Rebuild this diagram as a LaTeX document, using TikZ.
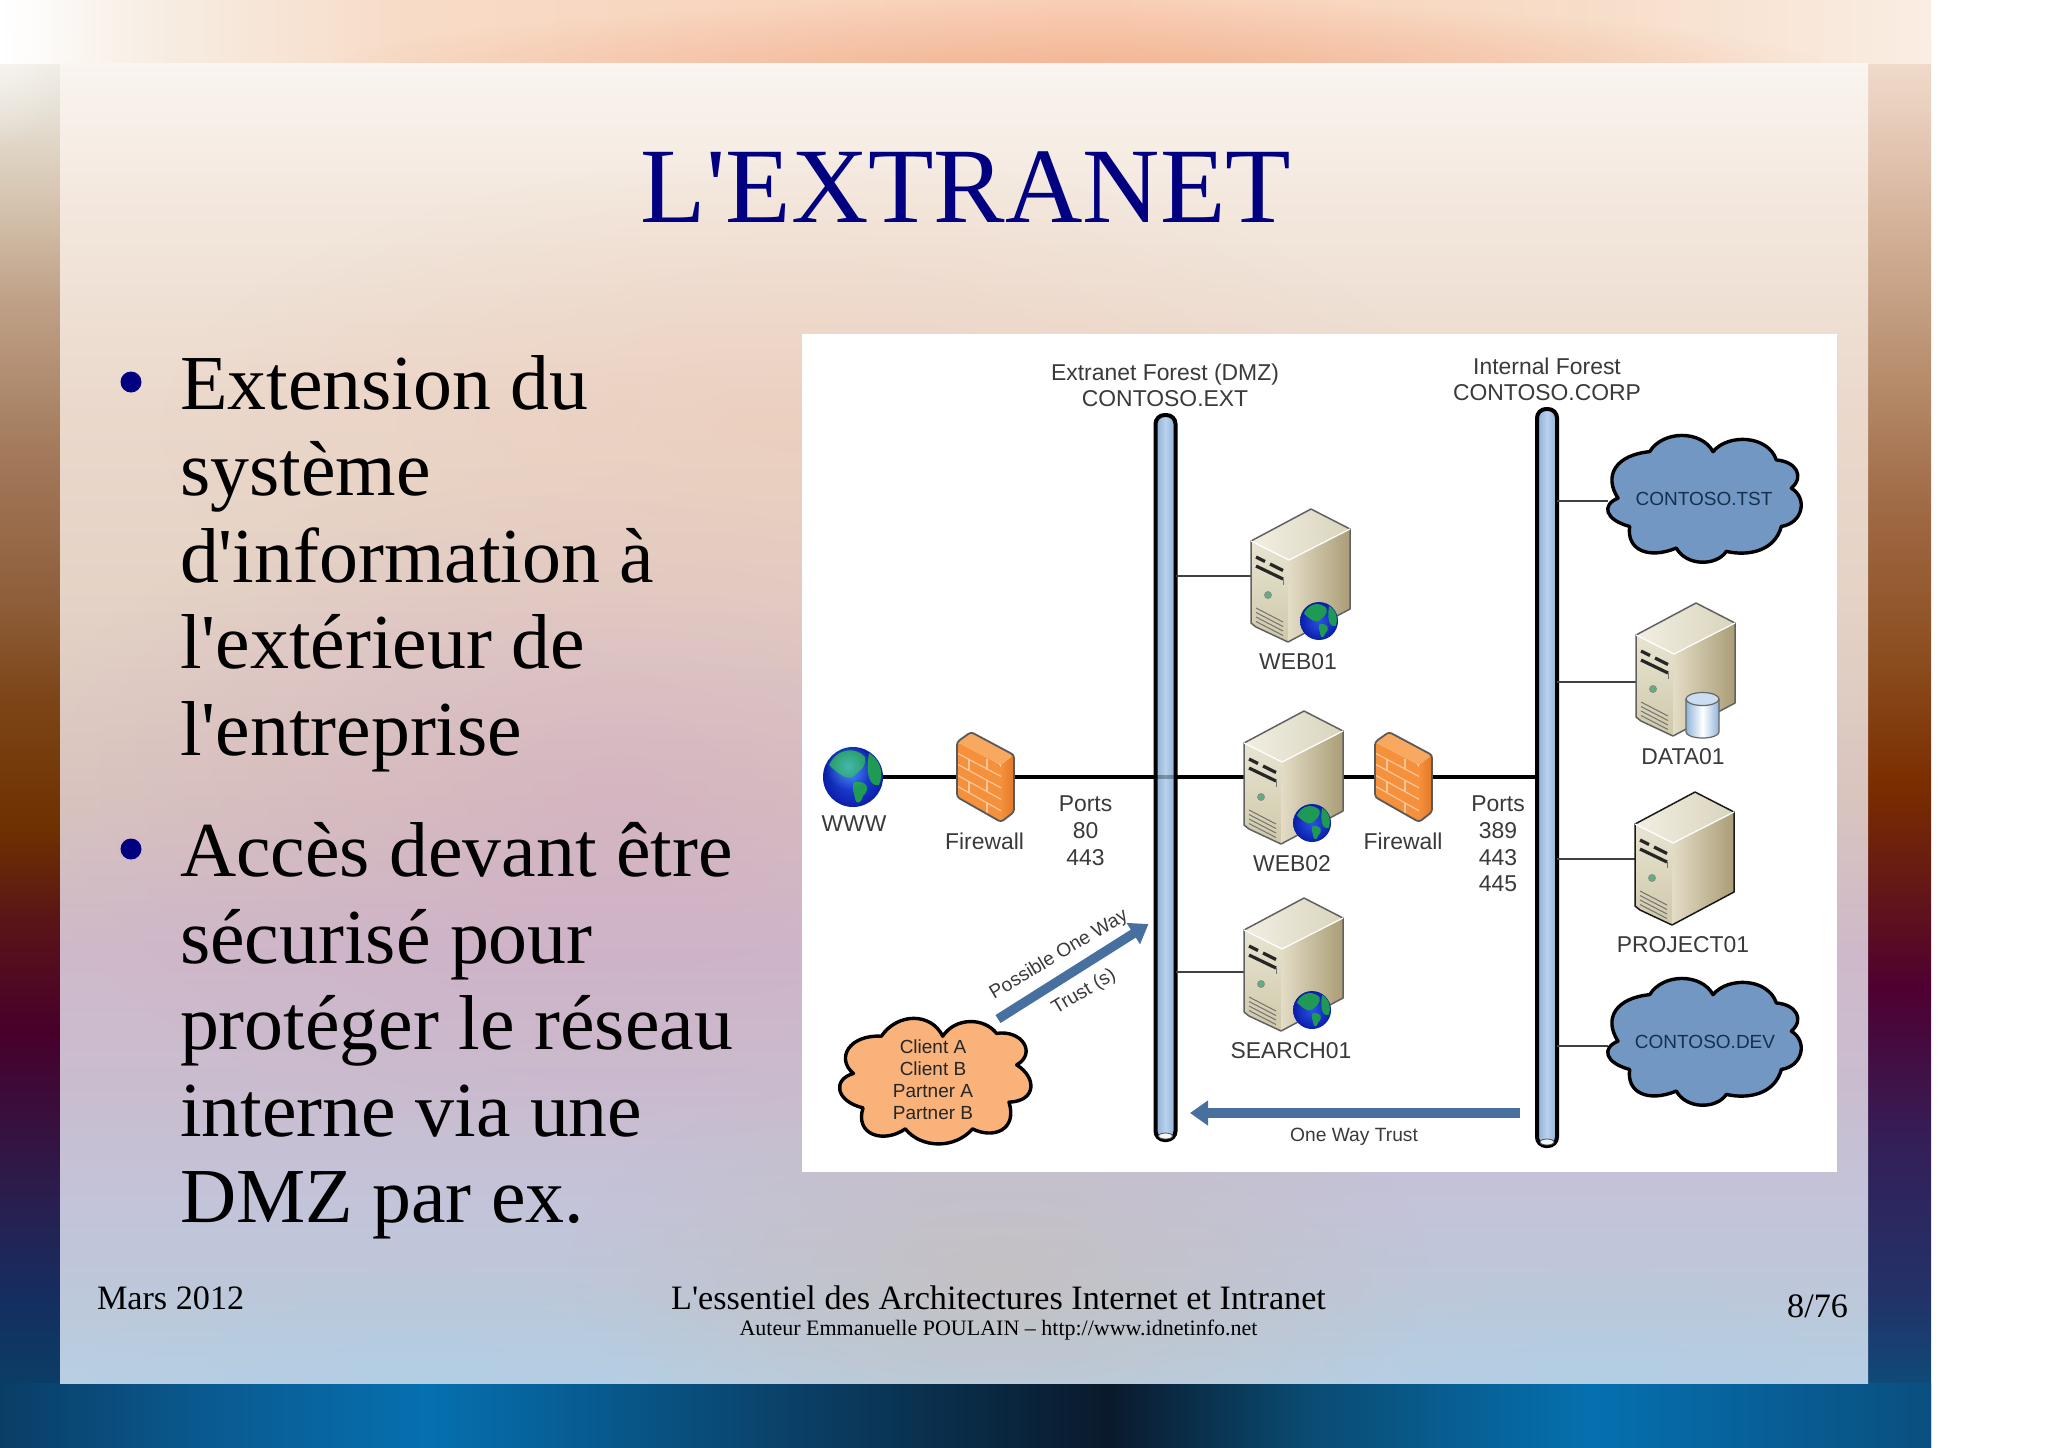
\documentclass[tikz,border=0pt]{standalone}
\usepackage{fontspec}
\usetikzlibrary{arrows.meta,fadings,calc}
\newfontfamily\serifslide{Liberation Serif}
\newfontfamily\sansfig{Liberation Sans}
\definecolor{navyt}{HTML}{000080}
\definecolor{labelc}{HTML}{3A3A3A}
\definecolor{cloudtxt}{HTML}{14304F}
\definecolor{arrowc}{HTML}{47709F}
\definecolor{cloudb}{HTML}{7297C2}
\definecolor{cloudo}{HTML}{F8B27A}
\definecolor{busedge}{HTML}{8AAED6}
\definecolor{busmid}{HTML}{BAD2EC}
\definecolor{srvtopa}{HTML}{F2EFE3}
\definecolor{srvtopb}{HTML}{D9D4BC}
\definecolor{srvfronta}{HTML}{E8E4D2}
\definecolor{srvfrontb}{HTML}{CFC8A9}
\definecolor{srvsidea}{HTML}{E3DDC6}
\definecolor{srvsideb}{HTML}{AA9D76}
\definecolor{fwfront}{HTML}{F5903C}
\definecolor{fwtop}{HTML}{F9A860}
\definecolor{fwside}{HTML}{E27828}
\definecolor{fwbrick}{HTML}{FBC79C}
\definecolor{earthin}{HTML}{2A52E8}
\definecolor{earthout}{HTML}{0A1EA8}
\definecolor{earthland}{HTML}{1F9A55}
\definecolor{cylside}{HTML}{8FB4DA}
\definecolor{cyltop}{HTML}{CADDF1}
\definecolor{blobmauve}{HTML}{CFA3C4}
\definecolor{blobgrey}{HTML}{C8BDB6}
\definecolor{blobpeach}{HTML}{EDC6B2}
\definecolor{blobblue}{HTML}{AECDE4}
\definecolor{bandshade}{HTML}{F1B08E}
\colorlet{srvedge}{black!62}
\pgfdeclareverticalshading{bgleft}{100bp}{rgb(0bp)=(0.04,0.31,0.50);
 rgb(25bp)=(0.04,0.31,0.50);rgb(27.2bp)=(0.04,0.24,0.40);rgb(30.1bp)=(0.08,0.18,0.38);rgb(33.5bp)=(0.16,0.12,0.31);
 rgb(39.3bp)=(0.28,0.0,0.17);rgb(43.2bp)=(0.35,0.08,0.09);rgb(46.3bp)=(0.43,0.19,0.0);rgb(50.8bp)=(0.49,0.27,0.09);
 rgb(54.3bp)=(0.56,0.37,0.23);rgb(59.5bp)=(0.64,0.48,0.36);rgb(64.6bp)=(0.75,0.63,0.53);rgb(68.1bp)=(0.84,0.77,0.69);
 rgb(71.5bp)=(0.91,0.89,0.85);rgb(75bp)=(0.99,0.98,0.96);rgb(100bp)=(0.99,0.98,0.96)}
\pgfdeclareverticalshading{bgright}{100bp}{rgb(0bp)=(0.04,0.35,0.54);
 rgb(25bp)=(0.04,0.35,0.54);rgb(27.2bp)=(0.06,0.29,0.47);rgb(30.1bp)=(0.13,0.20,0.41);rgb(35.3bp)=(0.20,0.125,0.35);
 rgb(40.9bp)=(0.31,0.0,0.19);rgb(44.6bp)=(0.40,0.10,0.08);rgb(47.9bp)=(0.48,0.18,0.0);rgb(52.5bp)=(0.55,0.31,0.13);
 rgb(57.7bp)=(0.63,0.42,0.28);rgb(62.2bp)=(0.72,0.56,0.43);rgb(68.1bp)=(0.85,0.72,0.63);rgb(71.5bp)=(0.92,0.82,0.75);
 rgb(75bp)=(0.98,0.91,0.86);rgb(100bp)=(0.98,0.91,0.86)}
\pgfdeclarehorizontalshading{bgtop}{100bp}{rgb(0bp)=(1,1,1);rgb(25bp)=(1,1,1);rgb(29bp)=(0.97,0.93,0.89);rgb(35.4bp)=(0.97,0.86,0.78);
 rgb(53.5bp)=(0.98,0.81,0.71);rgb(66.4bp)=(0.97,0.87,0.79);rgb(75bp)=(0.98,0.93,0.89);rgb(100bp)=(0.98,0.93,0.89)}
\pgfdeclarehorizontalshading{bgbottom}{100bp}{rgb(0bp)=(0.04,0.24,0.40);rgb(25bp)=(0.04,0.24,0.40);rgb(30.2bp)=(0.04,0.35,0.56);rgb(36.1bp)=(0.02,0.44,0.69);
 rgb(45.7bp)=(0.04,0.25,0.40);rgb(53.7bp)=(0.04,0.10,0.17);rgb(58.7bp)=(0.04,0.29,0.44);rgb(66.2bp)=(0.02,0.44,0.69);
 rgb(75bp)=(0.04,0.31,0.50);rgb(100bp)=(0.04,0.31,0.50)}
\pgfdeclareverticalshading{panelv}{100bp}{rgb(0bp)=(0.72,0.81,0.89);rgb(25bp)=(0.72,0.81,0.89);rgb(28.1bp)=(0.74,0.785,0.855);rgb(32bp)=(0.765,0.765,0.85);
 rgb(35.8bp)=(0.79,0.74,0.815);rgb(41.5bp)=(0.81,0.725,0.79);rgb(47.2bp)=(0.85,0.77,0.745);rgb(54.7bp)=(0.895,0.825,0.775);
 rgb(62.3bp)=(0.92,0.85,0.80);rgb(69.9bp)=(0.955,0.91,0.87);rgb(75bp)=(0.98,0.96,0.94);rgb(100bp)=(0.98,0.96,0.94)}
\tikzfading[name=softblob, inner color=transparent!0, outer color=transparent!100]
\tikzset{
 slidetext/.style={inner sep=0pt,outer sep=0pt,text=black,font=\serifslide\fontsize{38.9}{43.3}\selectfont,align=left,anchor=north west},
 bulletdot/.style={circle,fill=navyt,inner sep=0pt,minimum size=10.5pt},
 footer/.style={inner sep=0pt,outer sep=0pt,text=black,font=\serifslide\fontsize{17.1}{20}\selectfont},
 figlabel/.style={inner sep=0pt,outer sep=0pt,text=labelc,align=center,font=\sansfig\fontsize{11.45}{13}\selectfont},
 figports/.style={inner sep=0pt,outer sep=0pt,text=labelc,align=center,font=\sansfig\fontsize{11.45}{13.4}\selectfont},
 figsmall/.style={inner sep=0pt,outer sep=0pt,text=labelc,align=center,font=\sansfig\fontsize{9.6}{11.2}\selectfont},
 cloudlabel/.style={inner sep=0pt,outer sep=0pt,text=cloudtxt,font=\sansfig\fontsize{9.5}{11}\selectfont},
 busnode/.style={draw=black,line width=2pt,rounded corners=4.5pt,left color=busedge,right color=busedge,middle color=busmid,inner sep=0pt,outer sep=0pt,minimum width=10pt},
 mainline/.style={draw=black,line width=1.75pt},
 thinline/.style={draw=black!75,line width=.9pt},
 trustarrow/.style={draw=arrowc,line width=4.7pt,-{Triangle[length=9pt,width=12pt]}},
 cloudedge/.style={draw=black,line width=1.7pt,line join=round},
 pics/srv/.style={code={
  \shade[left color=srvtopa,right color=srvtopb] (0,0) -- (60,-32) -- (99,-12) -- (38,19) -- cycle;
  \shade[top color=srvfronta,bottom color=srvfrontb] (0,0) -- (38,19) -- (37,101) -- (5,86) -- (0,82) -- cycle;
  \shade[left color=srvsidea,right color=srvsideb] (38,19) -- (99,-12) -- (99,68) -- (37,101) -- cycle;
  \draw[srvedge,line width=.75pt,line join=round] (0,0) -- (60,-32) -- (99,-12) -- (99,68) -- (37,101) -- (5,86) -- (0,82) -- cycle;
  \draw[white,line width=.6pt] (0,0) -- (38,19) -- (99,-12);
  \draw[black!85,line width=1.6pt] (5,16) -- (14,20.5) (19,23) -- (32,29.5);
  \draw[black!85,line width=1.6pt] (5,25) -- (32,38);
  \draw[black!55,line width=.5pt] (32,38) -- (32,44);
  \draw[black!45,fill=earthland!75!white,line width=.5pt] (17,54) circle (3.4);
  \foreach \k in {67,71.5,76,80.5}{\draw[black!55,line width=.5pt] (5,\k) -- (32,\k+14);}
 }},
 pics/earth/.style={code={
  \shade[inner color=earthin,outer color=earthout] (0,0) circle (30);
  \fill[earthland] (-24,-12) .. controls (-15,-30) and (3,-30) .. (12,-20) .. controls (14,-10) and (6,-6) .. (1,-1) .. controls (-4,4) and (-14,-2) .. (-24,-12) -- cycle;
  \fill[earthland] (16,-24) .. controls (28,-16) and (31,-4) .. (26,8) .. controls (18,10) and (12,0) .. (16,-24) -- cycle;
  \fill[earthland] (1,5) .. controls (14,3) and (18,12) .. (10,19) .. controls (8,27) and (3,28) .. (2,21) .. controls (1,15) and (-2,10) .. (1,5) -- cycle;
 }},
 pics/firewallshape/.style={code={
  \fill[fwfront,rounded corners=1.5pt] (0,0) -- (44,23) -- (44,80) -- (0,55) -- cycle;
  \fill[fwtop] (0,0) -- (14,-10) -- (57,13) -- (44,23) -- cycle;
  \shade[left color=fwfront,right color=fwside] (44,23) -- (57,13) -- (57,70) -- (44,80) -- cycle;
  \foreach \k in {11,22,33,44}{\draw[fwbrick,line width=.6pt] (0,\k) -- (44,{\k+23+\k*0.04});}
  \foreach \k/\a in {0/30,11/12,22/30,33/12,44/30}{\draw[fwbrick,line width=.6pt] (\a,{\k+\a*0.55}) -- ++(0,11);}
  \draw[black!65,line width=.9pt,line join=round,rounded corners=1.5pt] (0,0) -- (14,-10) -- (57,13) -- (57,70) -- (44,80) -- (0,55) -- cycle;
 }},
}
\newcommand{\blueoutline}{(30,190) .. controls (-15,120) and (25,60) .. (125,50) .. controls (165,-15) and (280,-15) .. (315,50) .. controls (360,-5) and (480,0) .. (505,75) .. controls (565,80) and (590,125) .. (550,160) .. controls (600,190) and (585,265) .. (520,275) .. controls (500,350) and (420,365) .. (355,350) .. controls (325,395) and (235,395) .. (205,340) .. controls (120,375) and (55,345) .. (65,275) .. controls (-10,255) and (-20,210) .. (30,190) -- cycle}
\begin{document}
\begin{tikzpicture}[x=0.5pt,y=-0.5pt]
\useasboundingbox (0,0) rectangle (2048,1447);
\fill[white] (0,0) rectangle (2048,1447);
% slide background
\shade[shading=bgleft] (0,0) rectangle (60,1447);
\shade[shading=bgright] (1868,0) rectangle (1931,1447);
\shade[shading=bgtop] (0,0) rectangle (1931,63);
\shade[shading=bgbottom] (0,1383) rectangle (1931,1447);
\begin{scope}
\clip (0,0) rectangle (1931,63);
\fill[bandshade,path fading=softblob,opacity=.9] (1080,75) ellipse (760 and 75);
\end{scope}
\begin{scope}
\clip (0,0) rectangle (100,300);
\fill[white,path fading=softblob,opacity=.7] (-10,10) ellipse (90 and 140);
\end{scope}
% panel
\shade[shading=panelv] (60,63) rectangle (1868,1383);
\begin{scope}
\clip (60,63) rectangle (1868,1383);
\fill[blobmauve,path fading=softblob,opacity=.45] (620,800) ellipse (600 and 340);
\fill[blobgrey,path fading=softblob,opacity=.6] (1000,1270) ellipse (430 and 210);
\fill[blobpeach,path fading=softblob,opacity=.45] (800,430) ellipse (640 and 270);
\fill[blobblue,path fading=softblob,opacity=.5] (420,1370) ellipse (330 and 100);
\fill[blobblue,path fading=softblob,opacity=.5] (1600,1370) ellipse (330 and 100);
\end{scope}
% title and bullets
\node[inner sep=0pt,anchor=base,text=navyt,font=\serifslide\fontsize{53.6}{60}\selectfont] (title) at (966,222) {L'EXTRANET};
\node[bulletdot] (dot1) at (131,382) {};
\node[slidetext] (bullet1) at (180,289) {\rule{0pt}{60pt}Extension du\\système\\d'information à\\l'extérieur de\\l'entreprise};
\node[bulletdot] (dot2) at (131,849) {};
\node[slidetext] (bullet2) at (180,756.5) {\rule{0pt}{60pt}Accès devant être\\sécurisé pour\\protéger le réseau\\interne via une\\DMZ par ex.};
% footer
\node[footer,anchor=base west] (date) at (97,1309) {Mars 2012};
\node[footer,anchor=base] (foot) at (998.5,1309) {L'essentiel des Architectures Internet et Intranet};
\node[footer,anchor=base,font=\serifslide\fontsize{11}{14}\selectfont] (author) at (998.5,1335.5) {Auteur Emmanuelle POULAIN – http://www.idnetinfo.net};
\node[footer,anchor=base east] (page) at (1848,1317.5) {8/76};
% figure
\fill[white] (802,334) rectangle (1837,1172);
% named attachment points
\coordinate (wwwp) at (880,777);
\coordinate (web02w) at (1246,777);
\coordinate (web02e) at (1342,777);
\coordinate (fw2w) at (1375,777);
\coordinate (fw2e) at (1432,777);
\coordinate (web01p) at (1251,576);
\coordinate (searchp) at (1244,972);
\coordinate (tstp) at (1608,501);
\coordinate (datap) at (1636,682);
\coordinate (projp) at (1635,859);
\coordinate (devp) at (1608,1046);
\coordinate (clientp) at (998,1019);
\coordinate (truststart) at (1520,1113);
% buses
\node[busnode,minimum height=362.5pt] (bus1) at (1165.5,777.5) {};
\node[busnode,minimum height=368.5pt] (bus2) at (1547,777.5) {};
\coordinate (trustend1) at (1148.5,924);
\coordinate (trustend2) at (1190,1113);
\draw[fill=white!80!busmid,draw=black!70,line width=.4pt] (1165.5,1136) ellipse (7 and 3);
\draw[fill=white!80!busmid,draw=black!70,line width=.4pt] (1547,1142) ellipse (7 and 3);
% connectors
\draw[mainline] (wwwp) -- (bus1.west |- wwwp);
\draw[black,opacity=.3,line width=1.75pt] (bus1.west |- wwwp) -- (bus1.east |- wwwp);
\draw[mainline] (bus1.east |- wwwp) -- (web02w);
\draw[mainline] (web02e) -- (fw2w);
\draw[mainline] (fw2e) -- (bus2.west |- fw2e);
\draw[thinline] (bus1.east |- web01p) -- (web01p);
\draw[thinline] (bus1.east |- searchp) -- (searchp);
\draw[thinline] (bus2.east |- tstp) -- (tstp);
\draw[thinline] (bus2.east |- datap) -- (datap);
\draw[thinline] (bus2.east |- projp) -- (projp);
\draw[thinline] (bus2.east |- devp) -- (devp);
\draw[trustarrow] (clientp) -- (trustend1);
\draw[trustarrow] (truststart) -- (trustend2);
% devices
\pic at (1251,541) {srv};
\pic[scale=.633] at (1319,621) {earth};
\pic at (1244,743) {srv};
\pic[scale=.633] at (1312,823) {earth};
\pic at (1244,930) {srv};
\pic[scale=.633] at (1312,1010) {earth};
\pic at (1636,635) {srv};
\shade[left color=cylside,right color=cylside,middle color=white] (1686,699) -- (1686,732) arc (180:0:16.5 and 6) -- (1719,699) -- cycle;
\draw[black!60,line width=.6pt] (1686,699) -- (1686,732) arc (180:0:16.5 and 6) -- (1719,699);
\draw[black!60,line width=.6pt,fill=cyltop] (1702.5,699) ellipse (16.5 and 6.5);
\begin{scope}
\colorlet{srvedge}{black!90}
\pic at (1635,824) {srv};
\end{scope}
\pic at (957,742) {firewallshape};
\pic at (1375,742) {firewallshape};
\pic at (853,777) {earth};
\fill[cyan!60!white,path fading=softblob,opacity=.55] (848,766) circle (23);
% clouds
\begin{scope}[shift={(1608,435)},xscale=.3333,yscale=.3325]
\fill[cloudb,cloudedge] \blueoutline;
\end{scope}
\begin{scope}[shift={(1608,978)},xscale=.3333,yscale=.3325]
\fill[cloudb,cloudedge] \blueoutline;
\end{scope}
\begin{scope}[shift={(840,1020)},xscale=.96,yscale=.955]
\fill[cloudo,cloudedge] (14,56) .. controls (-5,40) and (10,15) .. (43,17) .. controls (60,-8) and (95,-8) .. (107,17) .. controls (120,-3) and (150,-3) .. (163,14) .. controls (190,10) and (205,35) .. (184,47) .. controls (205,60) and (205,85) .. (176,86) .. controls (185,115) and (160,125) .. (138,114) .. controls (120,135) and (85,135) .. (68,114) .. controls (45,130) and (15,120) .. (24,92) .. controls (-5,85) and (-8,62) .. (14,56) -- cycle;
\end{scope}
% figure labels
\node[figlabel] (ext) at (1165,385.5) {Extranet Forest (DMZ)\\CONTOSO.EXT};
\node[figlabel] (int) at (1547,379) {Internal Forest\\CONTOSO.CORP};
\node[figlabel] (lweb01) at (1298,662) {WEB01};
\node[figlabel] (lweb02) at (1292,863.5) {WEB02};
\node[figlabel] (lsearch) at (1291,1051) {SEARCH01};
\node[figlabel] (ldata) at (1683,757) {DATA01};
\node[figlabel] (lproj) at (1683,945) {PROJECT01};
\node[figlabel] (lwww) at (854,824) {WWW};
\node[figlabel] (lfw1) at (984.5,841) {Firewall};
\node[figlabel] (lfw2) at (1403,841) {Firewall};
\node[figports] (ports1) at (1085.5,830.5) {Ports\\80\\443};
\node[figports] (ports2) at (1498,844) {Ports\\389\\443\\445};
\node[cloudlabel] (ltst) at (1704,498.5) {CONTOSO.TST};
\node[cloudlabel] (ldev) at (1705,1041.5) {CONTOSO.DEV};
\node[figsmall,font=\sansfig\fontsize{9.5}{11.1}\selectfont,text=black!85] (lclient) at (933,1079.5) {Client A\\Client B\\Partner A\\Partner B};
\node[figsmall,rotate=31] (possible) at (1059,955) {Possible One Way};
\node[figsmall,rotate=31] (trusts) at (1084,992) {Trust (s)};
\node[figsmall] (oneway) at (1354,1137) {One Way Trust};
\end{tikzpicture}
\end{document}
